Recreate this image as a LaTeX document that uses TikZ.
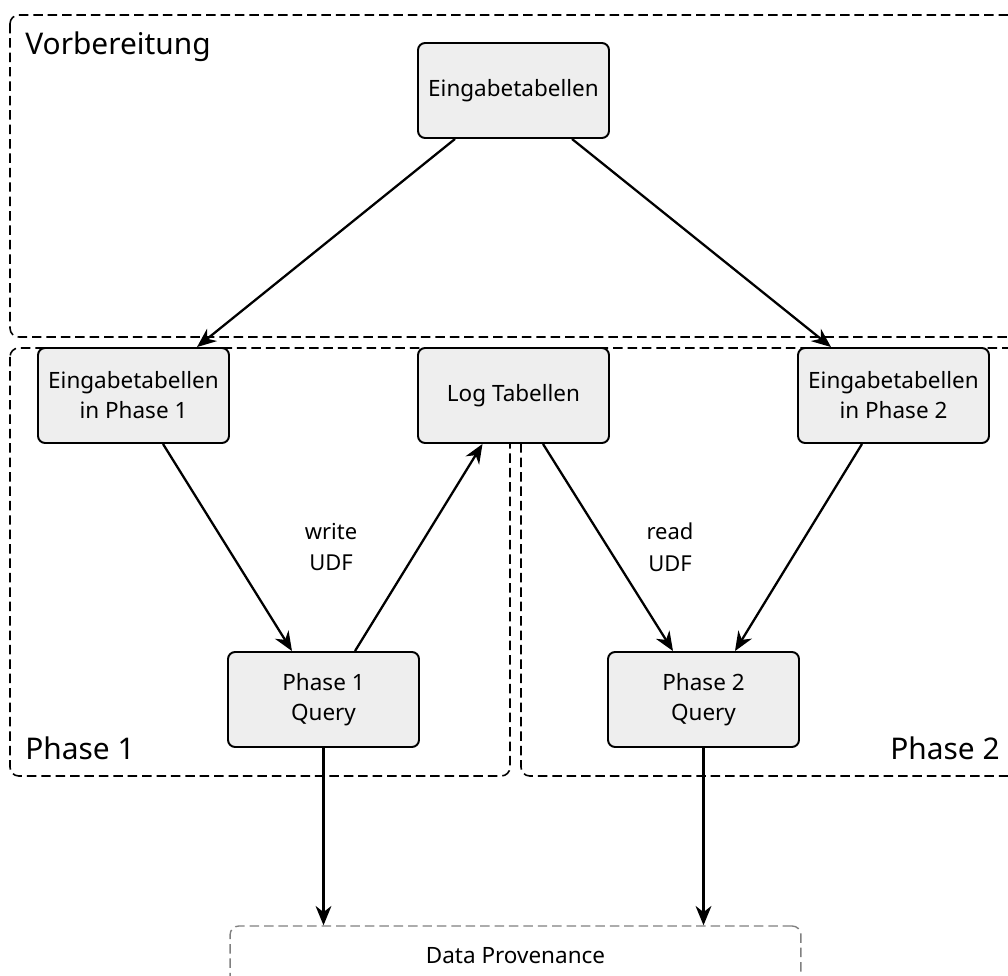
\documentclass[tikz,border=0pt]{standalone}
\usepackage{fontspec}
\setmainfont{Noto Sans}
\usetikzlibrary{arrows.meta}
\definecolor{boxfill}{HTML}{EEEEEE}
\definecolor{provgray}{HTML}{808080}
\begin{document}
\begin{tikzpicture}[x=0.02cm,y=-0.02cm,
    box/.style={draw=black,line width=1.1pt,fill=boxfill,rounded corners=4pt,
        minimum width=3.82cm,minimum height=1.9cm,align=center,inner sep=0pt,
        font=\fontsize{12.8}{17}\selectfont},
    group/.style={draw=black,line width=0.9pt,dash pattern=on 5.4pt off 2.8pt,rounded corners=5pt},
    grouplabel/.style={inner sep=0pt,font=\fontsize{17}{20}\selectfont},
    provbox/.style={draw=provgray,line width=0.8pt,dash pattern=on 5.4pt off 2.8pt,rounded corners=5pt,
        minimum width=11.42cm,minimum height=1.2cm,inner sep=0pt,font=\fontsize{12.8}{17}\selectfont},
    arr/.style={-{Stealth[length=11pt,width=9pt,inset=3.5pt]},line width=1.3pt},
    lbl/.style={align=center,inner sep=0pt,font=\fontsize{12.5}{18}\selectfont}]
    \clip (0,0) rectangle (1008,976);
    % groups
    \draw[group] (10,15) rectangle (1040,337);
    \draw[group] (10,348) rectangle (510,776);
    \draw[group] (521,348) rectangle (1040,776);
    \node[grouplabel,anchor=base west] (vorb) at (25,55) {Vorbereitung};
    \node[grouplabel,anchor=base west] (ph1) at (25,759) {Phase 1};
    \node[grouplabel,anchor=base east] (ph2) at (1000,759) {Phase 2};
    % tables
    \node[box] (eingabe) at (513.5,90.5) {Eingabetabellen};
    \node[box] (ein1) at (133.5,395.5) {Eingabetabellen\\in Phase 1};
    \node[box] (log) at (513.5,395.5) {Log Tabellen};
    \node[box] (ein2) at (893.5,395.5) {Eingabetabellen\\in Phase 2};
    % queries
    \node[box] (q1) at (323.5,699.5) {Phase 1\\Query};
    \node[box] (q2) at (703.5,699.5) {Phase 2\\Query};
    \node[provbox] (prov) at (515.5,956) {Data Provenance};
    % edges
    \draw[arr] ([xshift=-1.17cm]eingabe.south) -- ([xshift=1.27cm]ein1.north);
    \draw[arr] ([xshift=1.17cm]eingabe.south) -- ([xshift=-1.25cm]ein2.north);
    \draw[arr] ([xshift=0.59cm]ein1.south) -- ([xshift=-0.63cm]q1.north);
    \draw[arr] ([xshift=0.63cm]q1.north) -- ([xshift=-0.62cm]log.south);
    \draw[arr] ([xshift=0.59cm]log.south) -- ([xshift=-0.61cm]q2.north);
    \draw[arr] ([xshift=-0.63cm]ein2.south) -- ([xshift=0.63cm]q2.north);
    \draw[arr] (q1.south) -- (q1.south |- prov.north);
    \draw[arr] (q2.south) -- (q2.south |- prov.north);
    \node[lbl] (wudf) at (331,547) {write\\UDF};
    \node[lbl] (rudf) at (670,547) {read\\UDF};
    %\draw[red] (0,0) rectangle (1008,976);
\end{tikzpicture}
\end{document}
